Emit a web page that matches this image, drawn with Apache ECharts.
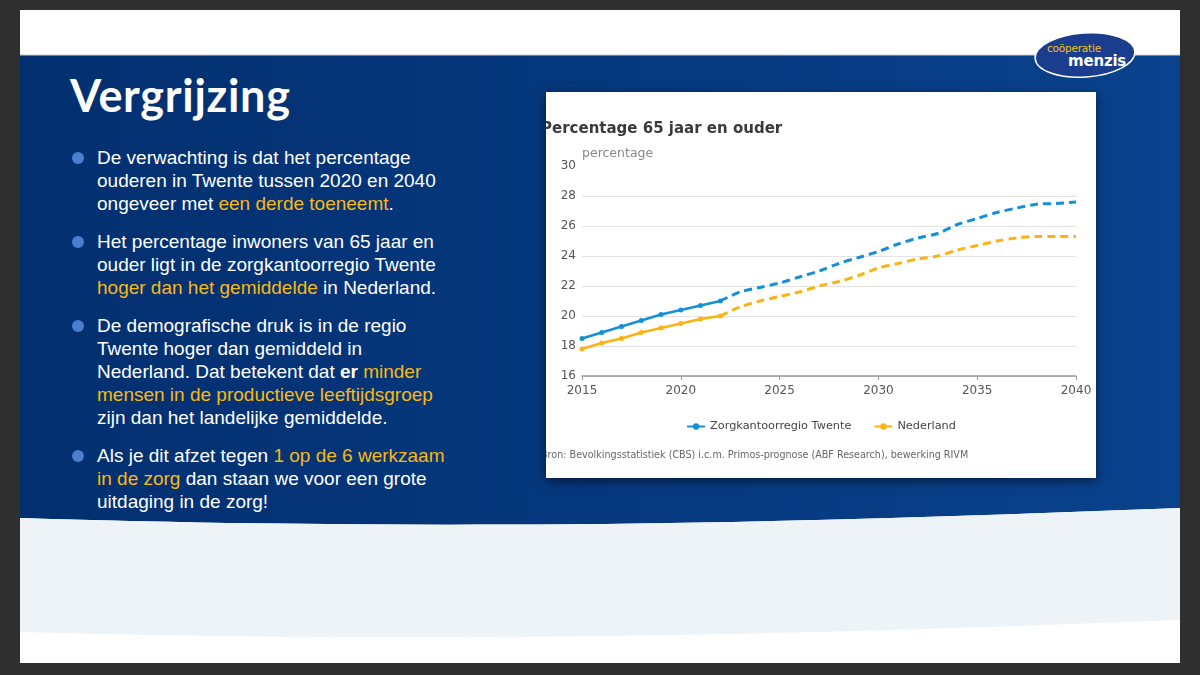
<!DOCTYPE html>
<html>
<head>
<meta charset="utf-8">
<script src="https://cdn.jsdelivr.net/npm/echarts@6/dist/echarts.min.js"></script>
<style>
  html, body { margin: 0; padding: 0; }
  body { width: 1200px; height: 675px; background: #2f2f2f; position: relative; overflow: hidden; font-family: "Liberation Sans", Arial, sans-serif; }
  #slide { position: absolute; left: 20px; top: 10px; width: 1160px; height: 653px; background: #fff; overflow: hidden; }
  #bg { position: absolute; left: 0; top: 0; }
  #title { position: absolute; left: 50px; top: 58px; font-family: Lato, "Open Sans", sans-serif; font-weight: 700; font-size: 45px; color: #fff; letter-spacing: 0.7px; }
  .bullets { position: absolute; left: 77px; top: 136px; width: 440px; color: #fff; font-size: 19px; line-height: 23px; }
  .b { position: relative; margin-bottom: 15px; }
  .b::before { content: ""; position: absolute; left: -25px; top: 6px; width: 12px; height: 12px; border-radius: 50%; background: #4a7fcf; }
  .y { color: #f9b912; }
  #card { position: absolute; left: 526px; top: 82px; width: 550px; height: 386px; background: #fff; box-shadow: 0 3px 10px rgba(0,0,0,0.55); }
  #chart { width: 550px; height: 386px; }
  #logo1 { position: absolute; left: 1027px; top: 32px; font-family: "DejaVu Sans", sans-serif; font-size: 10.5px; color: #f4c313; letter-spacing: -0.2px; }
  #logo2 { position: absolute; left: 1048px; top: 42px; font-family: "DejaVu Sans", sans-serif; font-weight: 700; font-size: 15px; color: #fff; letter-spacing: -0.2px; }
</style>
</head>
<body>
<div id="slide">
  <svg id="bg" width="1160" height="653" viewBox="0 0 1160 653">
    <defs>
      <linearGradient id="g" x1="0" y1="0" x2="1" y2="0">
        <stop offset="0" stop-color="#022f6f"/>
        <stop offset="1" stop-color="#0a428d"/>
      </linearGradient>
    </defs>
    <path d="M0,45 L1160,45 L1160,498 C800,512 450,522 0,508 Z" fill="url(#g)"/>
    <path d="M0,508 C450,522 800,512 1160,498 L1160,610 C800,624 450,634 0,622 Z" fill="#eef3f8"/>
    <line x1="0" y1="45" x2="1160" y2="45" stroke="#c9ced6" stroke-width="1"/>
    <ellipse cx="1065" cy="45" rx="50" ry="22" transform="rotate(-4 1065 45)" fill="#1b3d8d" stroke="#ffffff" stroke-width="1.5"/>
  </svg>
  <div id="logo1">coöperatie</div>
  <div id="logo2">menzis</div>
  <div id="title">Vergrijzing</div>
  <div class="bullets">
    <div class="b">De verwachting is dat het percentage<br>ouderen in Twente tussen 2020 en 2040<br>ongeveer met <span class="y">een derde toeneemt</span>.</div>
    <div class="b">Het percentage inwoners van 65 jaar en<br>ouder ligt in de zorgkantoorregio Twente<br><span class="y">hoger dan het gemiddelde</span> in Nederland.</div>
    <div class="b">De demografische druk is in de regio<br>Twente hoger dan gemiddeld in<br>Nederland. Dat betekent dat <b>er</b> <span class="y">minder</span><br><span class="y">mensen in de productieve leeftijdsgroep</span><br>zijn dan het landelijke gemiddelde.</div>
    <div class="b">Als je dit afzet tegen <span class="y">1 op de 6 werkzaam</span><br><span class="y">in de zorg</span> dan staan we voor een grote<br>uitdaging in de zorg!</div>
  </div>
  <div id="card"><div id="chart"></div></div>
</div>
<script>
// ---- data ----
var chartTitle = 'Percentage 65 jaar en ouder';
var yAxisName = 'percentage';
var sourceText = 'Bron: Bevolkingsstatistiek (CBS) i.c.m. Primos-prognose (ABF Research), bewerking RIVM';
var seriesNames = ['Zorgkantoorregio Twente', 'Nederland'];

var yearsObserved = [2015, 2016, 2017, 2018, 2019, 2020, 2021, 2022];
var yearsPrognose = [2022, 2023, 2024, 2025, 2026, 2027, 2028, 2029, 2030, 2031, 2032, 2033, 2034, 2035, 2036, 2037, 2038, 2039, 2040];

var twenteObserved = [18.5, 18.9, 19.3, 19.7, 20.1, 20.4, 20.7, 21.0];
var twentePrognose = [21.0, 21.6, 21.9, 22.2, 22.6, 23.0, 23.5, 23.9, 24.3, 24.8, 25.2, 25.5, 26.1, 26.5, 26.9, 27.2, 27.45, 27.5, 27.6];

var nlObserved = [17.8, 18.2, 18.5, 18.9, 19.2, 19.5, 19.8, 20.0];
var nlPrognose = [20.0, 20.6, 21.0, 21.3, 21.6, 22.0, 22.3, 22.7, 23.2, 23.5, 23.8, 24.0, 24.4, 24.7, 25.0, 25.2, 25.3, 25.3, 25.3];

// ---- chart ----
function pairs(xs, ys) { return xs.map(function (x, i) { return [x, ys[i]]; }); }
var blue = '#1590d8';
var orange = '#fbb313';
var font = '"DejaVu Sans", sans-serif';

var chart = echarts.init(document.getElementById('chart'), null, { renderer: 'canvas' });
chart.setOption({
  animation: false,
  title: [{
    text: chartTitle, left: -10, top: 25,
    textStyle: { fontFamily: font, fontSize: 15, fontWeight: 'bold', color: '#3a3a3a' }
  }, {
    text: sourceText, left: -10, top: 353,
    textStyle: { fontFamily: font, fontSize: 9.6, fontWeight: 'normal', color: '#666' }
  }],
  legend: {
    data: seriesNames, left: 'center', top: 324,
    itemWidth: 18, itemHeight: 8, itemGap: 22,
    textStyle: { fontFamily: font, fontSize: 11.3, color: '#444' }
  },
  grid: { left: 36, right: 20, top: 74, bottom: 102, containLabel: false },
  xAxis: {
    type: 'value', min: 2015, max: 2040, interval: 5,
    axisLine: { lineStyle: { color: '#999', width: 1.5 } },
    axisTick: { show: true, length: 4, lineStyle: { color: '#999' } },
    axisLabel: { fontFamily: font, fontSize: 12, color: '#555', margin: 9, formatter: function (v) { return String(v); } },
    splitLine: { show: false }
  },
  yAxis: {
    type: 'value', min: 16, max: 30, interval: 2,
    name: yAxisName, nameLocation: 'end', nameGap: 6,
    nameTextStyle: { fontFamily: font, fontSize: 12.5, color: '#888', align: 'left', padding: [0, 0, 0, 0] },
    axisLine: { show: false }, axisTick: { show: false },
    axisLabel: { fontFamily: font, fontSize: 12, color: '#555', margin: 6 },
    splitLine: { lineStyle: { color: ['#e3e3e3', '#e3e3e3', '#e3e3e3', '#e3e3e3', '#e3e3e3', '#e3e3e3', '#e3e3e3', 'rgba(0,0,0,0)'], width: 1 } }
  },
  series: [
    { name: seriesNames[0], type: 'line', data: pairs(yearsObserved, twenteObserved), symbol: 'circle', symbolSize: 5,
      lineStyle: { color: blue, width: 2.5 }, itemStyle: { color: blue }, z: 3 },
    { name: seriesNames[0], type: 'line', data: pairs(yearsPrognose, twentePrognose), showSymbol: false, smooth: 0.3,
      lineStyle: { color: blue, width: 3, type: [8, 5] }, itemStyle: { color: blue }, z: 3 },
    { name: seriesNames[1], type: 'line', data: pairs(yearsObserved, nlObserved), symbol: 'circle', symbolSize: 5,
      lineStyle: { color: orange, width: 2.5 }, itemStyle: { color: orange }, z: 2 },
    { name: seriesNames[1], type: 'line', data: pairs(yearsPrognose, nlPrognose), showSymbol: false, smooth: 0.3,
      lineStyle: { color: orange, width: 3, type: [8, 5] }, itemStyle: { color: orange }, z: 2 }
  ]
});
</script>
</body>
</html>
